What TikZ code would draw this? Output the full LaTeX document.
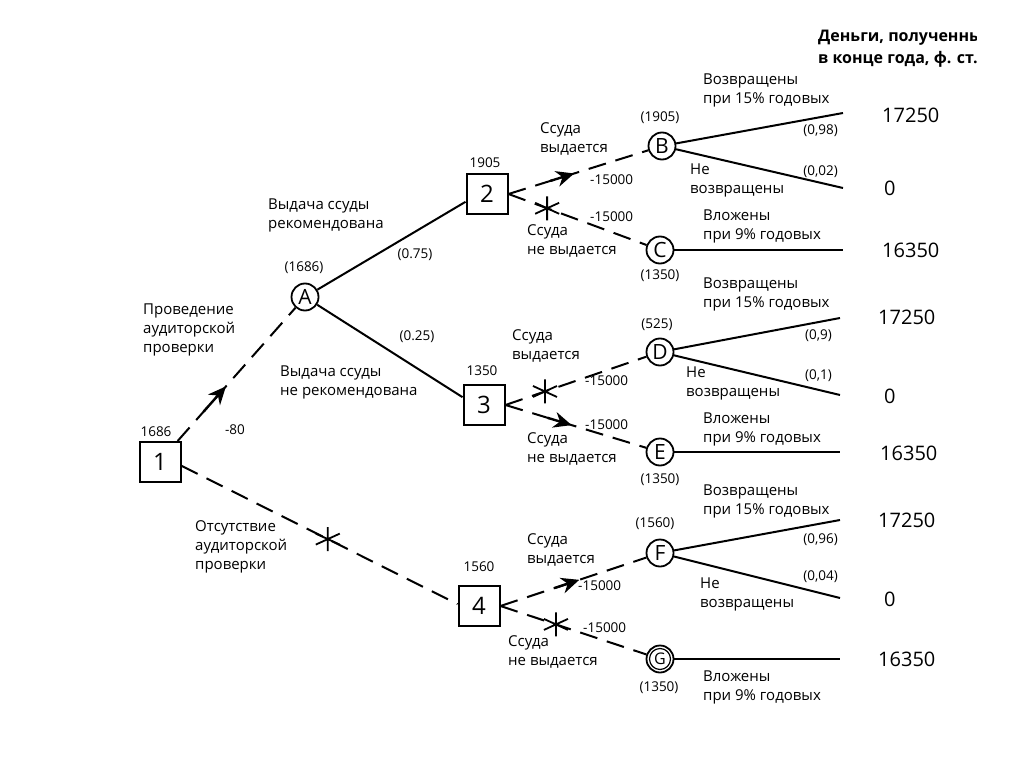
\documentclass[tikz,border=0pt]{standalone}
\usepackage{fontspec}
\setmainfont{Open Sans}
\usetikzlibrary{arrows.meta}
\tikzset{
  xstar/.pic={\draw[line width=1.8pt,solid] (0,-12)--(0,12) (-12,-5.5)--(12,5.5) (-12,5.5)--(12,-5.5);}
}
\begin{document}
\begin{tikzpicture}[x=1pt,y=-1pt,
  every node/.style={font=\fontsize{15}{19}\selectfont, inner sep=0pt},
  lbl/.style={anchor=west, align=left},
  small/.style={font=\fontsize{13.5}{16}\selectfont},
  pay/.style={font=\fontsize{20}{24}\selectfont, anchor=west},
  dec/.style={draw, line width=2pt, minimum width=41pt, minimum height=40pt, font=\fontsize{24}{28}\selectfont},
  chance/.style={draw, circle, line width=1.8pt, minimum size=27pt, font=\fontsize{21}{22}\selectfont},
  br/.style={line width=2pt},
  dsh/.style={line width=2pt, dash pattern=on 18pt off 10pt},
  arr/.style={line width=2.4pt, solid, -{Stealth[length=18pt,width=16pt]}},
]
\fill[white] (0,0) rectangle (1024,767);
\useasboundingbox (0,0) rectangle (1024,767);

% decision nodes
\node[dec] (n1) at (160,462) {1};
\node[dec] (n2) at (487,194) {2};
\node[dec] (n3) at (484,405) {3};
\node[dec] (n4) at (479,606) {4};
% chance nodes
\node[chance] (A) at (305,297) {A};
\node[chance] (B) at (662,146) {B};
\node[chance] (C) at (660,250) {C};
\node[chance] (D) at (660,352) {D};
\node[chance] (E) at (660,452) {E};
\node[chance] (F) at (660,553) {F};
\node[chance, font=\fontsize{16}{18}\selectfont] (G) at (660,659) {G};
\draw[line width=1.2pt] (G.center) circle[radius=10.5pt];

% terminal points
\coordinate (eB1) at (843,113);
\coordinate (eB2) at (843,188);
\coordinate (eC)  at (843,250);
\coordinate (eD1) at (840,318);
\coordinate (eD2) at (840,395);
\coordinate (eE)  at (840,452);
\coordinate (eF1) at (840,520);
\coordinate (eF2) at (840,598);
\coordinate (eG)  at (840,659);

% connectors
\draw[dsh] (n1.50) -- coordinate[pos=0.22] (a1s) coordinate[pos=0.41] (a1e) (A);
\draw[dsh] (n1.-10) -- coordinate[pos=0.53] (s14) (n4.175);
\draw[br] (A) -- (n2.200);
\draw[br] (A) -- (n3.160);
\draw[dsh] (n2.east) -- coordinate[pos=0.30] (a2s) coordinate[pos=0.47] (a2e) (B);
\draw[dsh] (n2.east) -- coordinate[pos=0.28] (s2C) (C);
\draw[dsh] (n3.east) -- coordinate[pos=0.28] (s3D) (D);
\draw[dsh] (n3.east) -- coordinate[pos=0.30] (a3s) coordinate[pos=0.47] (a3e) (E);
\draw[dsh] (n4.east) -- coordinate[pos=0.37] (a4s) coordinate[pos=0.54] (a4e) (F);
\draw[dsh] (n4.east) -- coordinate[pos=0.38] (s4G) (G);
\draw[arr] (a1s) -- (a1e);
\draw[arr] (a2s) -- (a2e);
\draw[arr] (a3s) -- (a3e);
\draw[arr] (a4s) -- (a4e);
\pic at (s14) {xstar};
\pic at (s2C) {xstar};
\pic at (s3D) {xstar};
\pic at (s4G) {xstar};

\draw[br] (B) -- (eB1);
\draw[br] (B) -- (eB2);
\draw[br] (C) -- (eC);
\draw[br] (D) -- (eD1);
\draw[br] (D) -- (eD2);
\draw[br] (E) -- (eE);
\draw[br] (F) -- (eF1);
\draw[br] (F) -- (eF2);
\draw[br] (G) -- (eG);

% header
\begin{scope}
\clip (800,20) rectangle (976,75);
\node[lbl, font=\fontsize{16}{22}\selectfont\bfseries] (hdr) at (818,49) {Деньги, полученные\\в конце года, ф. ст.};
\end{scope}

% node values
\node[small] (v1) at (156,432) {1686};
\node[small] (v2) at (485,163) {1905};
\node[small] (v3) at (482,371) {1350};
\node[small] (v4) at (479,567) {1560};
\node[small] (vA) at (304,268) {(1686)};
\node[small] (vB) at (660,118) {(1905)};
\node[small] (vC) at (660,276) {(1350)};
\node[small] (vD) at (657,325) {(525)};
\node[small] (vE) at (660,480) {(1350)};
\node[small] (vF) at (655,524) {(1560)};
\node[small] (vG) at (659,688) {(1350)};

% costs
\node[small] (c1) at (235,430) {-80};
\node[small, anchor=west] (c2B) at (590,180) {-15000};
\node[small, anchor=west] (c2C) at (590,217) {-15000};
\node[small, anchor=west] (c3D) at (585,381) {-15000};
\node[small, anchor=west] (c3E) at (585,425) {-15000};
\node[small, anchor=west] (c4F) at (578,586) {-15000};
\node[small, anchor=west] (c4G) at (583,628) {-15000};

% probabilities
\node[small] (pA2) at (415,255) {(0.75)};
\node[small] (pA3) at (417,337) {(0.25)};
\node[small, anchor=east] (pB1) at (838,131) {(0,98)};
\node[small, anchor=east] (pB2) at (838,172) {(0,02)};
\node[small, anchor=east] (pD1) at (832,336) {(0,9)};
\node[small, anchor=east] (pD2) at (832,376) {(0,1)};
\node[small, anchor=east] (pF1) at (838,540) {(0,96)};
\node[small, anchor=east] (pF2) at (838,577) {(0,04)};

% branch labels
\node[lbl] (l1A) at (143,330) {Проведение\\аудиторской\\проверки};
\node[lbl] (l14) at (195,547) {Отсутствие\\аудиторской\\проверки};
\node[lbl] (lA2) at (268,215) {Выдача ссуды\\рекомендована};
\node[lbl] (lA3) at (280,382) {Выдача ссуды\\не рекомендована};
\node[lbl] (l2B) at (540,139) {Ссуда\\выдается};
\node[lbl] (l2C) at (527,241) {Ссуда\\не выдается};
\node[lbl] (l3D) at (512,346) {Ссуда\\выдается};
\node[lbl] (l3E) at (527,449) {Ссуда\\не выдается};
\node[lbl] (l4F) at (527,550) {Ссуда\\выдается};
\node[lbl] (l4G) at (508,652) {Ссуда\\не выдается};

\node[lbl] (tB1) at (703,90) {Возвращены\\при 15\% годовых};
\node[lbl] (tB2) at (690,180) {Не\\возвращены};
\node[lbl] (tC) at (703,226) {Вложены\\при 9\% годовых};
\node[lbl] (tD1) at (703,294) {Возвращены\\при 15\% годовых};
\node[lbl] (tD2) at (686,383) {Не\\возвращены};
\node[lbl] (tE) at (703,429) {Вложены\\при 9\% годовых};
\node[lbl] (tF1) at (703,501) {Возвращены\\при 15\% годовых};
\node[lbl] (tF2) at (700,594) {Не\\возвращены};
\node[lbl] (tG) at (703,687) {Вложены\\при 9\% годовых};

% payoffs
\node[pay] (yB1) at (882,115) {17250};
\node[pay] (yB2) at (884,188) {0};
\node[pay] (yC) at (882,250) {16350};
\node[pay] (yD1) at (878,317) {17250};
\node[pay] (yD2) at (884,396) {0};
\node[pay] (yE) at (880,453) {16350};
\node[pay] (yF1) at (878,520) {17250};
\node[pay] (yF2) at (884,599) {0};
\node[pay] (yG) at (878,659) {16350};
\end{tikzpicture}
\end{document}
